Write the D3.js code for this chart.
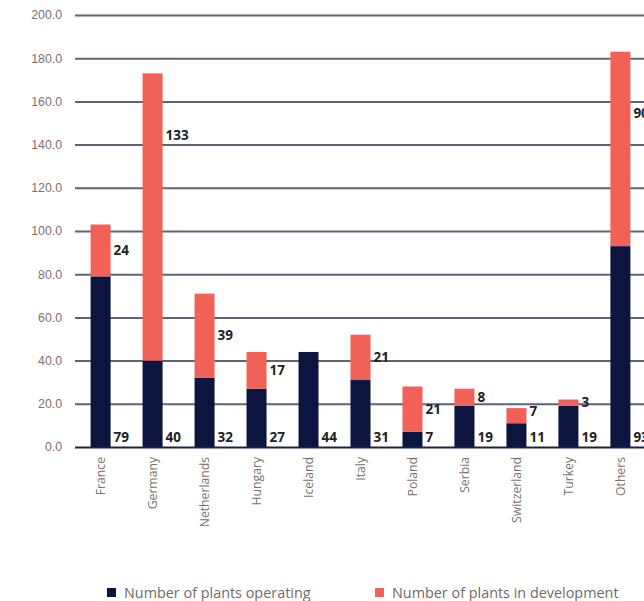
<!DOCTYPE html>
<html>
<head>
<meta charset="utf-8">
<script src="https://cdn.jsdelivr.net/npm/d3@7"></script>
<style>
  body { margin: 0; background: #fff; }
  svg { display: block; font-family: "Open Sans", "Noto Sans", sans-serif; }
</style>
</head>
<body>
<div id="chart"></div>
<script>
// values
var countries = ["France", "Germany", "Netherlands", "Hungary", "Iceland", "Italy",
                 "Poland", "Serbia", "Switzerland", "Turkey", "Others"];
var operating = [79, 40, 32, 27, 44, 31, 7, 19, 11, 19, 93];
var development = [24, 133, 39, 17, 0, 21, 21, 8, 7, 3, 90];
var yTicks = [0, 20, 40, 60, 80, 100, 120, 140, 160, 180, 200];
var seriesNames = ["Number of plants operating", "Number of plants in development"];

var W = 644, H = 601;
var navy = "#0c1540", coral = "#f26157";

var rows = countries.map(function(c, i) {
  return {country: c, op: operating[i], dev: development[i]};
});

var svg = d3.select("#chart").append("svg")
    .attr("width", W)
    .attr("height", H);

var x = d3.scaleBand()
    .domain(countries)
    .range([75, 646])
    .paddingInner(0.615)
    .paddingOuter(0.3);

var y = d3.scaleLinear()
    .domain([0, 200])
    .range([447, 15]);

// gridlines + tick labels
var yAxis = d3.axisLeft(y).tickValues(yTicks)
    .tickSize(-(W - 75))
    .tickFormat(d3.format(".1f"));

var gy = svg.append("g")
    .attr("transform", "translate(75,0)")
    .call(yAxis);
gy.select(".domain").remove();
gy.selectAll(".tick line")
    .attr("stroke", function(d) { return d === 0 ? "#1c2244" : "#5f6378"; })
    .attr("stroke-width", 2);
gy.selectAll(".tick text")
    .attr("x", -13)
    .attr("fill", "#7a726c")
    .style("font-size", "12.3px");

// stacked bars
var bw = x.bandwidth();
svg.selectAll(".op")
    .data(rows)
    .enter().append("rect")
    .attr("class", "op")
    .attr("x", function(d) { return x(d.country); })
    .attr("width", bw)
    .attr("y", function(d) { return y(d.op); })
    .attr("height", function(d) { return y(0) - y(d.op); })
    .attr("fill", navy);

svg.selectAll(".dev")
    .data(rows.filter(function(d) { return d.dev > 0; }))
    .enter().append("rect")
    .attr("class", "dev")
    .attr("x", function(d) { return x(d.country); })
    .attr("width", bw)
    .attr("y", function(d) { return y(d.op + d.dev); })
    .attr("height", function(d) { return y(d.op) - y(d.op + d.dev); })
    .attr("fill", coral);

// value labels, right of bars
svg.selectAll(".opLabel")
    .data(rows)
    .enter().append("text")
    .attr("class", "opLabel")
    .attr("x", function(d) { return x(d.country) + bw + 3; })
    .attr("y", y(0) - 10)
    .attr("dy", "0.35em")
    .attr("fill", "#222")
    .style("font-size", "13.5px")
    .style("font-weight", "bold")
    .text(function(d) { return d.op; });

svg.selectAll(".devLabel")
    .data(rows.filter(function(d) { return d.dev > 0; }))
    .enter().append("text")
    .attr("class", "devLabel")
    .attr("x", function(d) { return x(d.country) + bw + 3; })
    .attr("y", function(d) {
      var mid = (y(d.op) + y(d.op + d.dev)) / 2;
      // keep label in the upper part of tall segments, and off the lower label
      var py = Math.min(mid, y(d.op + d.dev) + 62);
      return Math.min(py, y(0) - 36);
    })
    .attr("dy", "0.35em")
    .attr("fill", "#222")
    .style("font-size", "13.5px")
    .style("font-weight", "bold")
    .text(function(d) { return d.dev; });

// category labels, rotated
svg.selectAll(".cat")
    .data(countries)
    .enter().append("text")
    .attr("class", "cat")
    .attr("transform", function(d) {
      return "translate(" + (x(d) + bw / 2) + ",457) rotate(-90)";
    })
    .attr("text-anchor", "end")
    .attr("dy", "0.35em")
    .attr("fill", "#7a726c")
    .style("font-size", "12.2px")
    .text(function(d) { return d; });

// legend
var legend = svg.append("g");
var legX = [107, 375];
seriesNames.forEach(function(name, i) {
  legend.append("rect")
      .attr("x", legX[i])
      .attr("y", 588)
      .attr("width", 9)
      .attr("height", 9)
      .attr("fill", i === 0 ? navy : coral);
  legend.append("text")
      .attr("x", legX[i] + 17)
      .attr("y", 592.5)
      .attr("dy", "0.35em")
      .attr("fill", "#6f6a66")
      .style("font-size", "14.4px")
      .text(name);
});
</script>
</body>
</html>
